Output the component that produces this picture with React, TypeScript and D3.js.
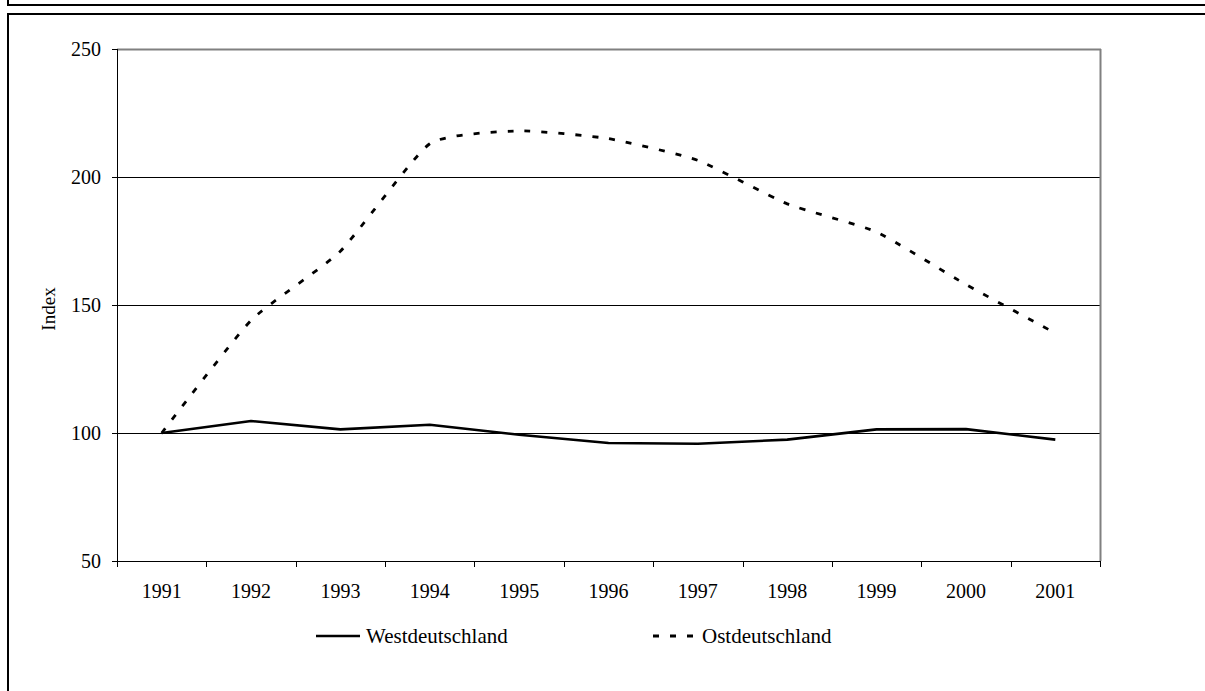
import React from "react";
import * as d3 from "d3";

const years = ["1991","1992","1993","1994","1995","1996","1997","1998","1999","2000","2001"];
const west = [100, 104.7, 101.4, 103.2, 99.3, 96.1, 95.8, 97.4, 101.4, 101.5, 97.4];
const east = [100, 144, 171, 213, 218, 215, 206.5, 189.5, 178.5, 158, 139];
const yTicks = [50, 100, 150, 200, 250];
const seriesNames = ["Westdeutschland", "Ostdeutschland"];

const FONT = "Liberation Serif, Times New Roman, serif";

export default function App() {
  const left = 117, right = 1100, top = 49, bottom = 561;
  const x = d3.scaleBand<string>().domain(years).range([left, right]);
  const y = d3.scaleLinear().domain([50, 250]).range([bottom, top]);
  const cx = (yr: string) => (x(yr) as number) + x.bandwidth() / 2;

  const westLine = d3.line<number>().x((_, i) => cx(years[i])).y(d => y(d));
  const eastLine = d3.line<number>().x((_, i) => cx(years[i])).y(d => y(d)).curve(d3.curveCardinal.tension(0.5));

  const boundaries = years.map(yr => x(yr) as number).concat([right]);

  return (
    <svg width={1205} height={691} style={{ position: "fixed", left: 0, top: 0, background: "#fff" }}>
      <rect x={0} y={0} width={1205} height={691} fill="#fff" />
      {/* frames */}
      <rect x={8} y={-20} width={1220} height={25} fill="none" stroke="#000" strokeWidth={2} />
      <rect x={8} y={14} width={1220} height={700} fill="none" stroke="#000" strokeWidth={2} />

      {/* gridlines */}
      {yTicks.filter(t => t !== 50 && t !== 250).map(t => (
        <line key={t} x1={left} x2={right} y1={Math.round(y(t)) + 0.5} y2={Math.round(y(t)) + 0.5} stroke="#000" strokeWidth={1} />
      ))}
      {/* plot area border (gray) */}
      <line x1={left} x2={right + 1} y1={y(250) + 0.5} y2={y(250) + 0.5} stroke="#808080" strokeWidth={2} />
      <line x1={right + 0.5} x2={right + 0.5} y1={y(250)} y2={bottom} stroke="#808080" strokeWidth={2} />

      {/* axes */}
      <line x1={left + 0.5} x2={left + 0.5} y1={top} y2={bottom} stroke="#000" strokeWidth={1} />
      <line x1={left} x2={right + 1} y1={bottom + 0.5} y2={bottom + 0.5} stroke="#000" strokeWidth={1} />
      {yTicks.map(t => (
        <g key={t}>
          <line x1={left - 5} x2={left} y1={Math.round(y(t)) + 0.5} y2={Math.round(y(t)) + 0.5} stroke="#000" strokeWidth={1} />
          <text x={101} y={y(t)} dy="0.35em" textAnchor="end" fontFamily={FONT} fontSize={20} fill="#000">{t}</text>
        </g>
      ))}
      {boundaries.map((b, i) => (
        <line key={i} x1={Math.round(b) + 0.5} x2={Math.round(b) + 0.5} y1={bottom} y2={bottom + 6} stroke="#000" strokeWidth={1} />
      ))}
      {years.map(yr => (
        <text key={yr} x={cx(yr)} y={598} textAnchor="middle" fontFamily={FONT} fontSize={20} fill="#000">{yr}</text>
      ))}
      <text transform={`translate(55, 309) rotate(-90)`} textAnchor="middle" fontFamily={FONT} fontSize={19} fill="#000">Index</text>

      {/* series */}
      <path d={westLine(west) || ""} fill="none" stroke="#000" strokeWidth={2.6} strokeLinejoin="round" />
      <path d={eastLine(east) || ""} fill="none" stroke="#000" strokeWidth={2.8} strokeDasharray="6,11" />

      {/* legend */}
      <line x1={316} x2={360} y1={636} y2={636} stroke="#000" strokeWidth={2.6} />
      <text x={366} y={643} fontFamily={FONT} fontSize={21} fill="#000">{seriesNames[0]}</text>
      <line x1={653} x2={696} y1={636} y2={636} stroke="#000" strokeWidth={2.8} strokeDasharray="6,11" />
      <text x={702} y={643} fontFamily={FONT} fontSize={21} fill="#000">{seriesNames[1]}</text>
    </svg>
  );
}
